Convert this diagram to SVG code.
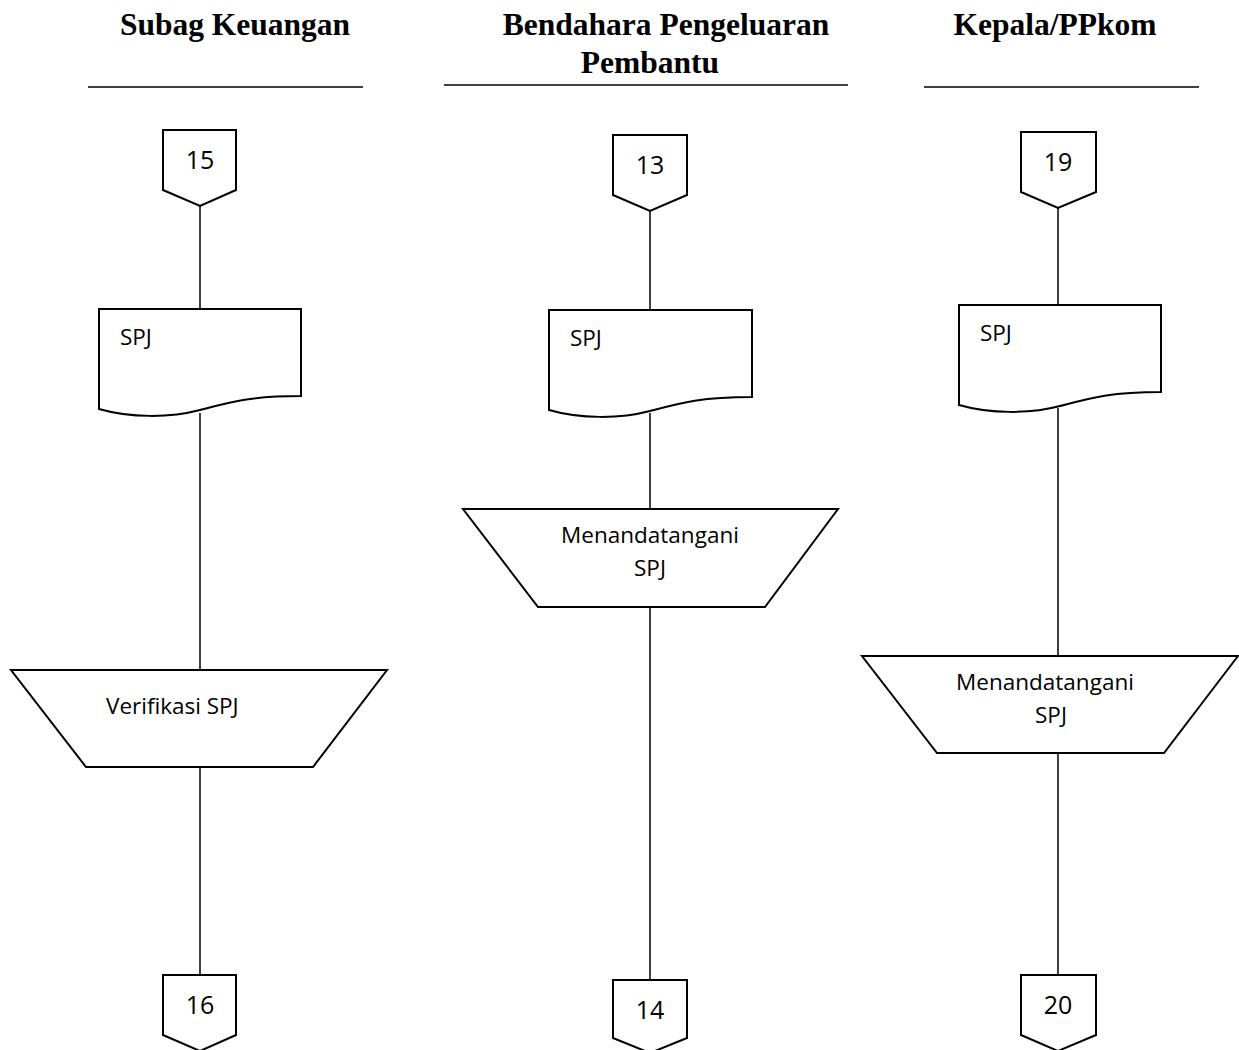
<svg xmlns="http://www.w3.org/2000/svg" width="1239" height="1050" viewBox="0 0 1239 1050">
  <style>
    .shape { fill: #ffffff; stroke: #000000; stroke-width: 2; }
    .rule { stroke: #000000; stroke-width: 1.5; }
    .conn { stroke: #000000; stroke-width: 1.5; fill: none; }
    .head { font-family: "Liberation Serif", "Times New Roman", serif; font-weight: bold; font-size: 31.5px; fill: #000; }
    .lbl { font-family: "Open Sans", "Liberation Sans", sans-serif; font-size: 22.5px; fill: #000; }
    .num { font-family: "Open Sans", "Liberation Sans", sans-serif; font-size: 25px; fill: #000; text-anchor: middle; }
  </style>

  <!-- lane headers -->
  <g id="lane-headers">
    <text class="head" x="235" y="35" text-anchor="middle">Subag Keuangan</text>
    <line class="rule" x1="88" y1="87" x2="363" y2="87"/>
    <text class="head" x="666" y="35" text-anchor="middle">Bendahara Pengeluaran</text>
    <text class="head" x="650" y="73" text-anchor="middle">Pembantu</text>
    <line class="rule" x1="444" y1="85" x2="848" y2="85"/>
    <text class="head" x="1055" y="35" text-anchor="middle">Kepala/PPkom</text>
    <line class="rule" x1="924" y1="87" x2="1199" y2="87"/>
  </g>

  <!-- connectors -->
  <g id="connectors">
    <line class="conn" x1="200" y1="206" x2="200" y2="309"/>
    <line class="conn" x1="200" y1="413" x2="200" y2="670"/>
    <line class="conn" x1="200" y1="767" x2="200" y2="975"/>
    <line class="conn" x1="650" y1="211" x2="650" y2="310"/>
    <line class="conn" x1="650" y1="413" x2="650" y2="509"/>
    <line class="conn" x1="650" y1="607" x2="650" y2="980"/>
    <line class="conn" x1="1058" y1="208" x2="1058" y2="305"/>
    <line class="conn" x1="1058" y1="408" x2="1058" y2="656"/>
    <line class="conn" x1="1058" y1="753" x2="1058" y2="975"/>
  </g>

  <!-- Subag Keuangan lane -->
  <g id="opc-15">
    <path class="shape" d="M163,130 H236 V190 L200,206 L163,190 Z"/>
    <text class="num" x="200" y="169">15</text>
  </g>
  <g id="doc-spj-1">
    <path class="shape" d="M99,309 H301 V396 C250,396 230,402 200,410 C170,418 130,418 99,409 Z"/>
    <text class="lbl" x="120" y="345">SPJ</text>
  </g>
  <g id="verifikasi-spj">
    <path class="shape" d="M11,670 H387 L313,767 H86 Z"/>
    <text class="lbl" x="106" y="714">Verifikasi SPJ</text>
  </g>
  <g id="opc-16">
    <path class="shape" d="M163,975 H236 V1035 L200,1051 L163,1035 Z"/>
    <text class="num" x="200" y="1014">16</text>
  </g>

  <!-- Bendahara Pengeluaran Pembantu lane -->
  <g id="opc-13">
    <path class="shape" d="M613,135 H687 V195 L650,211 L613,195 Z"/>
    <text class="num" x="650" y="174">13</text>
  </g>
  <g id="doc-spj-2">
    <path class="shape" d="M549,310 H752 V397 C700,397 680,403 650,411 C620,419 580,419 549,410 Z"/>
    <text class="lbl" x="570" y="346">SPJ</text>
  </g>
  <g id="ttd-spj-2">
    <path class="shape" d="M463,509 H838 L765,607 H538 Z"/>
    <text class="lbl" x="650" y="543" text-anchor="middle">Menandatangani</text>
    <text class="lbl" x="650" y="576" text-anchor="middle">SPJ</text>
  </g>
  <g id="opc-14">
    <path class="shape" d="M613,980 H687 V1038 L650,1053 L613,1038 Z"/>
    <text class="num" x="650" y="1019">14</text>
  </g>

  <!-- Kepala/PPkom lane -->
  <g id="opc-19">
    <path class="shape" d="M1021,132 H1096 V192 L1058,208 L1021,192 Z"/>
    <text class="num" x="1058" y="171">19</text>
  </g>
  <g id="doc-spj-3">
    <path class="shape" d="M959,305 H1161 V392 C1110,392 1090,398 1060,406 C1030,414 990,414 959,405 Z"/>
    <text class="lbl" x="980" y="341">SPJ</text>
  </g>
  <g id="ttd-spj-3">
    <path class="shape" d="M862,656 H1238 L1164,753 H937 Z"/>
    <text class="lbl" x="1045" y="690" text-anchor="middle">Menandatangani</text>
    <text class="lbl" x="1051" y="723" text-anchor="middle">SPJ</text>
  </g>
  <g id="opc-20">
    <path class="shape" d="M1021,975 H1096 V1035 L1058,1051 L1021,1035 Z"/>
    <text class="num" x="1058" y="1014">20</text>
  </g>
</svg>
